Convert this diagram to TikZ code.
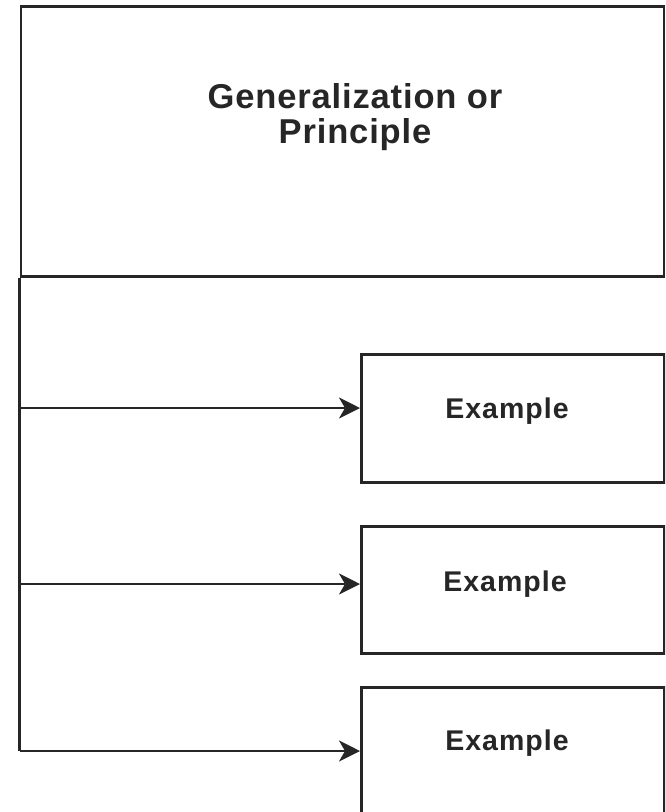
\documentclass[tikz,border=0pt]{standalone}
\usepackage{fontspec}
\setmainfont{Liberation Sans}
\usetikzlibrary{arrows.meta}
\definecolor{ink}{HTML}{262626}
\begin{document}
\begin{tikzpicture}[x=1pt,y=-1pt,
  frame/.style={draw=ink,line width=2.6pt,fill=white,anchor=north west,inner sep=0pt},
  label/.style={text=ink},
  link/.style={draw=ink,line width=2.4pt},
  tip/.style={-{Stealth[length=21pt,width=21pt,inset=6pt]}}]
\useasboundingbox (0,0) rectangle (665,812);
\clip (0,0) rectangle (665,812);
% principle box
\node[frame,minimum width=643pt,minimum height=270pt] (gen) at (19.5,5) {};
\node[label,font=\fontsize{34.5}{35}\bfseries\addfontfeature{LetterSpace=2.5},align=center] (gentext) at (355,117) {Generalization or\\Principle};
% example boxes
\node[frame,minimum width=303pt,minimum height=128pt] (ex1) at (360,353) {};
\node[frame,minimum width=303pt,minimum height=127pt] (ex2) at (360,525) {};
\node[frame,minimum width=303pt,minimum height=140pt] (ex3) at (360,686) {};
\tikzset{exlabel/.style={label,font=\fontsize{28.5}{30}\bfseries\addfontfeature{LetterSpace=3.5}}}
\node[exlabel] (t1) at (507,411) {Example};
\node[exlabel] (t2) at (505,584) {Example};
\node[exlabel] (t3) at (507,743) {Example};
% trunk and branches
\coordinate (b1) at (19.5,408);
\coordinate (b2) at (19.5,584);
\coordinate (b3) at (19.5,751);
\draw[link,line width=2.6pt] (gen.south west) -- (b3);
\draw[link,tip] (b1) -- (b1 -| ex1.west);
\draw[link,tip] (b2) -- (b2 -| ex2.west);
\draw[link,tip] (b3) -- (b3 -| ex3.west);
\end{tikzpicture}
\end{document}
